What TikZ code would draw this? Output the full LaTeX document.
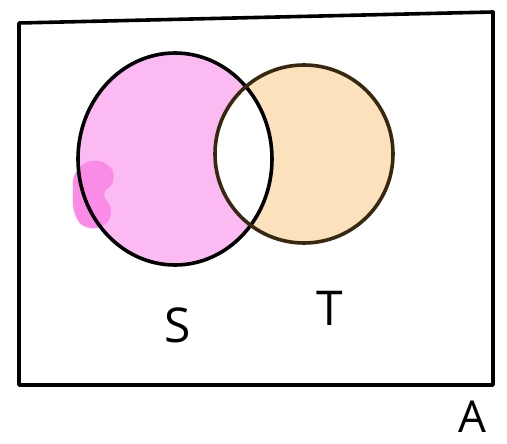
\documentclass[tikz,border=0pt]{standalone}
\usepackage{fontspec}
\setmainfont{Open Sans}
\begin{document}
\begin{tikzpicture}[x=1pt,y=-1pt,
  outline/.style={line width=3.6pt,line join=round,line cap=round},
  lbl/.style={font=\fontsize{48}{48}\selectfont,inner sep=0pt,anchor=base}]
\definecolor{pinkfill}{RGB}{252,186,242}
\definecolor{pinkdark}{RGB}{250,140,232}
\definecolor{peach}{RGB}{252,226,188}
\definecolor{brownline}{RGB}{55,40,15}
\useasboundingbox (0,0) rectangle (507,444);
% fills
\fill[pinkfill] (175,159) ellipse [x radius=97,y radius=106];
\fill[pinkdark] plot[smooth cycle,tension=0.8] coordinates
  {(76,172) (92,161) (110,167) (113,182) (104,194) (111,210) (104,225) (86,227) (75,214) (73,192)};
\fill[peach] (304,154) ellipse [x radius=89,y radius=89];
\begin{scope}
  \clip (175,159) ellipse [x radius=97,y radius=106];
  \fill[white] (304,154) ellipse [x radius=89,y radius=89];
\end{scope}
% outlines
\draw[outline] (175,159) ellipse [x radius=97,y radius=106];
\draw[outline,brownline] (304,154) ellipse [x radius=89,y radius=89];
% universe box
\draw[outline,line cap=butt] (19,23) coordinate (tl) -- (493,12) coordinate (tr)
  -- (493,385) coordinate (br) -- (19,385) coordinate (bl) -- cycle;
% labels
\node[lbl] (S) at (178,342) {S};
\node[lbl] (T) at (330,325) {T};
\node[lbl,font=\fontsize{44}{44}\selectfont] (A) at (472,432) {A};
\end{tikzpicture}
\end{document}
